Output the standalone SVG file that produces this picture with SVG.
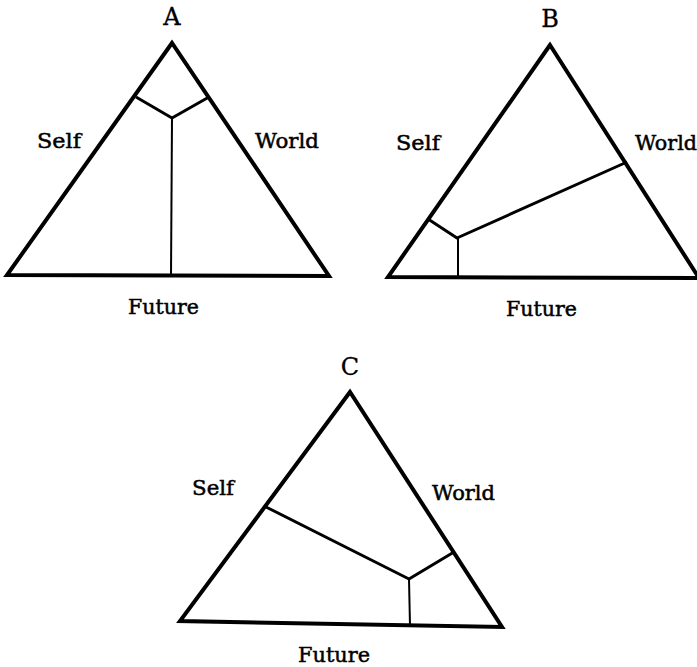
<svg xmlns="http://www.w3.org/2000/svg" width="697" height="667" viewBox="0 0 697 667">
<style>
.tri{fill:none;stroke:#000;stroke-width:4;stroke-linejoin:miter}
.div{fill:none;stroke:#000;stroke-width:3;stroke-linejoin:round}
.vert{fill:none;stroke:#000;stroke-width:2}
text{font-family:"DejaVu Serif","Liberation Serif",serif;font-size:21px;fill:#000;stroke:#000;stroke-width:0.5}
.ttl{font-size:24px;text-anchor:middle;stroke-width:0.3}
</style>
<rect width="697" height="667" fill="#fff"/>
<g id="panelA">
<text class="ttl" x="172" y="25">A</text>
<polygon class="tri" points="172,43 7,275 329,276"/>
<polyline class="div" points="136,97 172,118 209,97"/>
<line class="vert" x1="172" y1="118" x2="171" y2="276"/>
<text x="37" y="148" textLength="44" lengthAdjust="spacingAndGlyphs">Self</text>
<text x="255" y="148" textLength="64" lengthAdjust="spacingAndGlyphs">World</text>
<text x="128" y="314" textLength="71" lengthAdjust="spacingAndGlyphs">Future</text>
</g>
<g id="panelB">
<text class="ttl" x="550" y="27">B</text>
<polygon class="tri" points="550,45 388,277 699,278"/>
<polyline class="div" points="428,219 457,238 627,162"/>
<line class="vert" x1="458" y1="238" x2="458" y2="277"/>
<text x="396" y="150" textLength="44" lengthAdjust="spacingAndGlyphs">Self</text>
<text x="635" y="150" textLength="62" lengthAdjust="spacingAndGlyphs">World</text>
<text x="506" y="316" textLength="71" lengthAdjust="spacingAndGlyphs">Future</text>
</g>
<g id="panelC">
<text class="ttl" x="350" y="375">C</text>
<polygon class="tri" points="350,392 180,621 502,627"/>
<polyline class="div" points="266,507 409,579 454,552"/>
<line class="vert" x1="409" y1="579" x2="410" y2="626"/>
<text x="192" y="495" textLength="42" lengthAdjust="spacingAndGlyphs">Self</text>
<text x="432" y="500" textLength="63" lengthAdjust="spacingAndGlyphs">World</text>
<text x="298" y="662" textLength="72" lengthAdjust="spacingAndGlyphs">Future</text>
</g>
</svg>
